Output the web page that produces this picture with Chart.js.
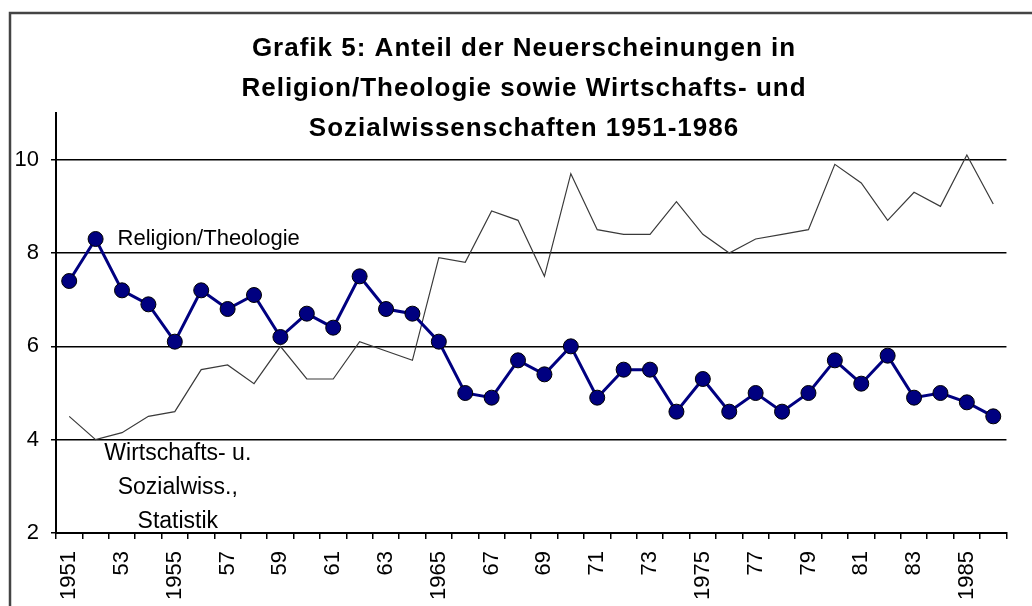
<!DOCTYPE html>
<html>
<head>
<meta charset="utf-8">
<script src="https://cdn.jsdelivr.net/npm/chart.js@4"></script>
<style>
  html, body { margin: 0; padding: 0; background: #fff; }
  canvas { display: block; }
</style>
</head>
<body>
<canvas id="chart" width="1032" height="606"></canvas>
<script>
// Jahre 1951-1986
const years = [
  '1951', '1952', '1953', '1954', '1955', '1956', '1957', '1958', '1959', '1960',
  '1961', '1962', '1963', '1964', '1965', '1966', '1967', '1968', '1969', '1970',
  '1971', '1972', '1973', '1974', '1975', '1976', '1977', '1978', '1979', '1980',
  '1981', '1982', '1983', '1984', '1985', '1986'
];
const tickLabels = [
  '1951', '', '53', '', '1955', '', '57', '', '59', '',
  '61', '', '63', '', '1965', '', '67', '', '69', '',
  '71', '', '73', '', '1975', '', '77', '', '79', '',
  '81', '', '83', '', '1985', ''
];
const religion = [
  7.4, 8.3, 7.2, 6.9, 6.1, 7.2, 6.8, 7.1, 6.2, 6.7,
  6.4, 7.5, 6.8, 6.7, 6.1, 5.0, 4.9, 5.7, 5.4, 6.0,
  4.9, 5.5, 5.5, 4.6, 5.3, 4.6, 5.0, 4.6, 5.0, 5.7,
  5.2, 5.8, 4.9, 5.0, 4.8, 4.5
];
const wirtschaft = [
  4.5, 4.0, 4.15, 4.5, 4.6, 5.5, 5.6, 5.2, 6.0, 5.3,
  5.3, 6.1, 5.9, 5.7, 7.9, 7.8, 8.9, 8.7, 7.5, 9.7,
  8.5, 8.4, 8.4, 9.1, 8.4, 8.0, 8.3, 8.4, 8.5, 9.9,
  9.5, 8.7, 9.3, 9.0, 10.1, 9.05
];
const titleLines = [
  'Grafik 5: Anteil der Neuerscheinungen in',
  'Religion/Theologie sowie Wirtschafts- und',
  'Sozialwissenschaften 1951-1986'
];
const religionName = 'Religion/Theologie';
const wirtschaftName = ['Wirtschafts- u.', 'Sozialwiss.,', 'Statistik'];

const FONT = '"Liberation Sans", Arial, sans-serif';

// Rahmen, Titel und Beschriftungen der Linien
const extras = {
  id: 'extras',
  beforeDraw(chart) {
    const ctx = chart.ctx;
    ctx.save();
    ctx.fillStyle = '#fff';
    ctx.fillRect(0, 0, chart.width, chart.height);
    ctx.strokeStyle = '#444';
    ctx.lineWidth = 2.5;
    ctx.beginPath();
    ctx.moveTo(10, chart.height);
    ctx.lineTo(10, 13);
    ctx.lineTo(chart.width, 13);
    ctx.stroke();
    ctx.restore();
  },
  afterDraw(chart) {
    const ctx = chart.ctx;
    const x = chart.scales.x, y = chart.scales.y;
    ctx.save();
    ctx.fillStyle = '#000';
    ctx.textBaseline = 'middle';

    ctx.font = 'bold 26px ' + FONT;
    ctx.letterSpacing = '1px';
    ctx.textAlign = 'center';
    titleLines.forEach((t, i) => ctx.fillText(t, 524, 49 + i * 40));
    ctx.letterSpacing = '0px';

    ctx.font = '22px ' + FONT;
    ctx.textAlign = 'left';
    ctx.fillText(religionName, x.getPixelForValue(1) + 22, y.getPixelForValue(religion[1]));

    ctx.font = '23px ' + FONT;
    ctx.textAlign = 'center';
    const cx = x.getPixelForValue(4) + 3;
    const top = y.getPixelForValue(4) + 14;
    wirtschaftName.forEach((t, i) => ctx.fillText(t, cx, top + i * 34));
    ctx.restore();
  }
};

new Chart(document.getElementById('chart'), {
  type: 'line',
  data: {
    labels: years,
    datasets: [{
      label: religionName,
      data: religion,
      borderColor: '#000080',
      borderWidth: 3,
      pointRadius: 7.5,
      pointBackgroundColor: '#000080',
      pointBorderColor: '#000',
      pointBorderWidth: 1,
      tension: 0
    }, {
      label: wirtschaftName.join(' '),
      data: wirtschaft,
      borderColor: '#3a3a3a',
      borderWidth: 1.2,
      pointRadius: 0,
      tension: 0
    }]
  },
  options: {
    responsive: false,
    animation: false,
    devicePixelRatio: 1,
    layout: { padding: { top: 113, right: 25, left: 0, bottom: 0 } },
    plugins: {
      legend: { display: false },
      title: { display: false },
      tooltip: { enabled: false }
    },
    scales: {
      x: {
        offset: true,
        grid: {
          offset: true,
          drawOnChartArea: false,
          drawTicks: true,
          tickLength: 6,
          color: '#000',
          lineWidth: 1.5
        },
        border: { color: '#000', width: 2 },
        ticks: {
          autoSkip: false,
          minRotation: 90,
          maxRotation: 90,
          padding: 12,
          color: '#000',
          font: { family: FONT, size: 22 },
          callback: (v, i) => tickLabels[i]
        },
        afterFit: s => { s.height = 73; }
      },
      y: {
        min: 2,
        max: 11,
        grid: { color: '#000', lineWidth: 1.5, tickLength: 5 },
        border: { color: '#000', width: 2 },
        ticks: {
          stepSize: 2,
          includeBounds: false,
          padding: 12,
          color: '#000',
          font: { family: FONT, size: 22 }
        },
        afterFit: s => { s.width = 56; }
      }
    }
  },
  plugins: [extras]
});
</script>
</body>
</html>
